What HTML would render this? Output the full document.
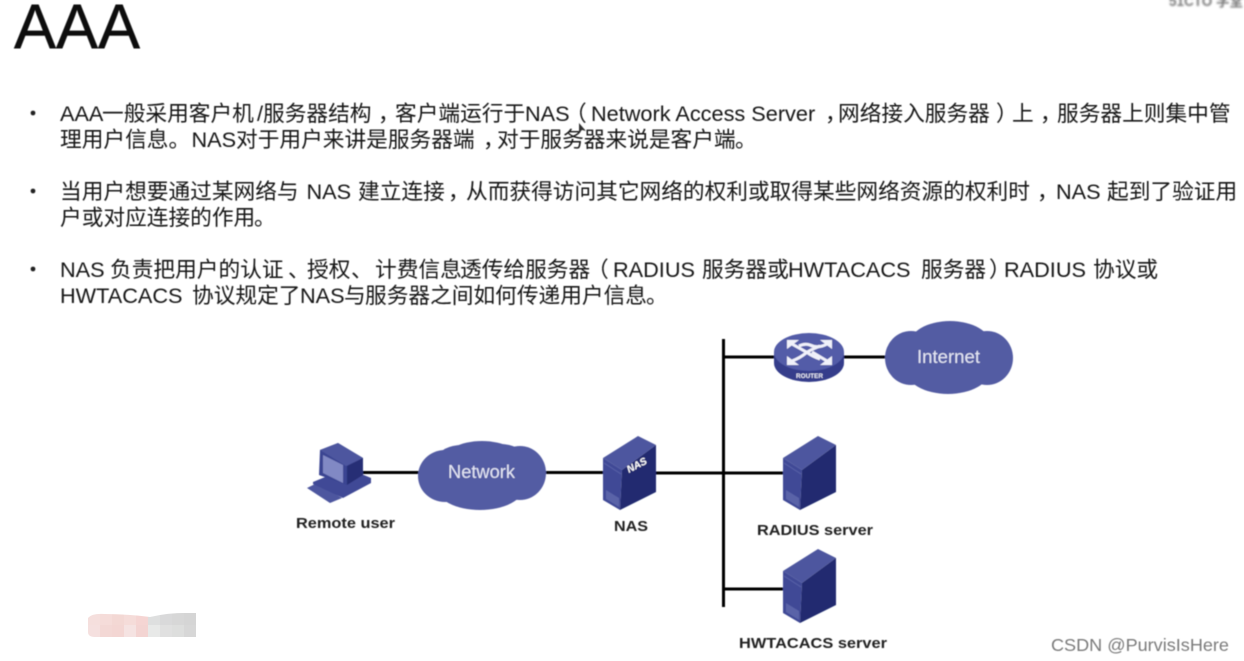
<!DOCTYPE html>
<html>
<head>
<meta charset="utf-8">
<style>
html,body{margin:0;padding:0;background:#fff;width:1244px;height:661px;overflow:hidden}
svg{display:block}
.t{font-family:"Liberation Sans","Noto Sans CJK SC",sans-serif;font-size:21.7px;fill:#161616}
.l{font-family:"Liberation Sans",sans-serif;font-weight:bold;font-size:15px;fill:#222}
.c{font-family:"Liberation Sans",sans-serif;font-size:18.5px;fill:#e4e6f4}
</style>
</head>
<body>
<svg width="1244" height="661" viewBox="0 0 1244 661" xmlns="http://www.w3.org/2000/svg">
<defs>
<filter id="b" x="-5%" y="-5%" width="110%" height="110%"><feGaussianBlur stdDeviation="0.45"/></filter>
<filter id="b2" x="-10%" y="-50%" width="120%" height="200%"><feGaussianBlur stdDeviation="1"/></filter>
<clipPath id="sm"><path d="M88,618 Q92,613 105,614 Q125,614 150,617 Q170,612 196,613 L196,637 L95,637 Q88,637 88,632 Z"/></clipPath>
<g id="srv">
<polygon points="603,458 638,436 656,445 622,470" fill="#4d569f"/>
<polygon points="603,458 622,470 620,510 603,500" fill="#3f4896"/>
<polygon points="622,470 656,445 656,492 620,510" fill="#23296f"/>
<polygon points="606,490 619,498 619,507 606,499" fill="#5a63a8"/>
<line x1="604" y1="463" x2="621" y2="474" stroke="#5a63a8" stroke-width="1"/>
</g>
</defs>

<g filter="url(#b)">
<text x="14" y="48" font-family="Liberation Sans,sans-serif" font-size="63" fill="#111" stroke="#111" stroke-width="0.5" textLength="126" lengthAdjust="spacing">AAA</text>

<circle cx="33" cy="113" r="2.4" fill="#222"/>
<circle cx="33" cy="191" r="2.4" fill="#222"/>
<circle cx="33" cy="269" r="2.4" fill="#222"/>

<text class="t" y="121"><tspan x="60">AAA</tspan><tspan x="102">一般采用客户机</tspan><tspan x="257">/</tspan><tspan x="263">服务器结构</tspan><tspan x="378">，</tspan><tspan x="395">客户端运行于</tspan><tspan x="525">NAS</tspan><tspan x="565">（</tspan><tspan x="591">Network Access Server</tspan><tspan x="825">，</tspan><tspan x="838">网络接入服务器</tspan><tspan x="996">）</tspan><tspan x="1012">上</tspan><tspan x="1040">，</tspan><tspan x="1057">服务器上则集中管</tspan></text>

<text class="t" y="147"><tspan x="60">理用户信息</tspan><tspan x="168.500">。</tspan><tspan x="191.500">NAS</tspan><tspan x="236">对于用户来讲是服务器端</tspan><tspan x="483">，</tspan><tspan x="497">对于服务器来说是客户端</tspan><tspan x="735">。</tspan></text>

<text class="t" y="199"><tspan x="60">当用户想要通过某网络与</tspan><tspan x="306.500">NAS</tspan><tspan x="358">建立连接</tspan><tspan x="448">，</tspan><tspan x="466">从而获得访问其它网络的权利或取得某些网络资源的权利时</tspan><tspan x="1037">，</tspan><tspan x="1056">NAS</tspan><tspan x="1107">起到了验证用</tspan></text>

<text class="t" y="225"><tspan x="60">户或对应连接的作用</tspan><tspan x="254">。</tspan></text>

<text class="t" y="277"><tspan x="60">NAS</tspan><tspan x="110">负责把用户的认证</tspan><tspan x="288">、</tspan><tspan x="307">授权</tspan><tspan x="351">、</tspan><tspan x="375">计费信息</tspan><tspan x="460">透传给服务器</tspan><tspan x="587">（</tspan><tspan x="613">RADIUS</tspan><tspan x="702">服务器或</tspan><tspan x="788">HWTACACS</tspan><tspan x="921">服务器</tspan><tspan x="989">）</tspan><tspan x="1004">RADIUS</tspan><tspan x="1093">协议或</tspan></text>

<text class="t" y="303"><tspan x="60">HWTACACS</tspan><tspan x="192">协议规定了</tspan><tspan x="300">NAS</tspan><tspan x="344">与</tspan><tspan x="365">服务器之间如何传递用户信息</tspan><tspan x="646">。</tspan></text>

<path d="M579,123 L579,133 L582,130 L586,131 Z" fill="#333"/>

<!-- lines -->
<g stroke="#000" stroke-width="3" fill="none">
<line x1="360" y1="472.500" x2="420" y2="472.500"/>
<line x1="544" y1="472.500" x2="606" y2="472.500"/>
<line x1="654" y1="473" x2="785" y2="473"/>
<line x1="723.500" y1="339" x2="723.500" y2="607"/>
<line x1="723" y1="357" x2="776" y2="357"/>
<line x1="842" y1="357" x2="887" y2="357"/>
<line x1="723" y1="589" x2="785" y2="589"/>
</g>

<!-- PC -->
<polygon points="307,488 317,483 342,498 330,503" fill="#4d569f"/>
<polygon points="313,482 347,468 371,478 371,483 343,498 313,484" fill="#3f4896"/>
<polygon points="320,450 338,443 363,458 363,475 347,485 319,475" fill="#3b4492"/>
<polygon points="320,450 338,443 363,458 346,466" fill="#4d569f"/>
<polygon points="347,466 363,458 363,475 347,485" fill="#272d75"/>
<polygon points="323,455 343,465 343,483 323,473" fill="#8189c4"/>

<!-- Network cloud -->
<g fill="#535ca3">
<ellipse cx="445" cy="476" rx="27" ry="26"/>
<ellipse cx="520" cy="473" rx="26" ry="27"/>
<ellipse cx="482" cy="463" rx="40" ry="22"/>
<ellipse cx="480" cy="487" rx="44" ry="23"/>
<ellipse cx="462" cy="458" rx="24" ry="13"/>
<ellipse cx="500" cy="457" rx="24" ry="13"/>
</g>
<text class="c" x="448" y="478" textLength="67" lengthAdjust="spacingAndGlyphs">Network</text>

<!-- Internet cloud -->
<g fill="#535ca3">
<ellipse cx="911" cy="358" rx="26" ry="27"/>
<ellipse cx="987" cy="358" rx="26" ry="27"/>
<ellipse cx="950" cy="345" rx="41" ry="24"/>
<ellipse cx="948" cy="370" rx="42" ry="24"/>
</g>
<text class="c" x="917" y="363" textLength="63" lengthAdjust="spacingAndGlyphs">Internet</text>

<!-- Router -->
<path d="M774,352 L774,363 A35,19 0 0 0 844,363 L844,352 Z" fill="#353e8b"/>
<ellipse cx="809" cy="352" rx="35" ry="19" fill="#525ca8"/>
<g fill="none" stroke="#f0f1fa" stroke-width="3">
<path d="M792,344 L808,353 Q812,356 820,359"/>
<path d="M827,344 Q818,349 810,345 Q805,343 799,346"/>
<path d="M792,361 Q800,358 806,353 Q810,350 820,346"/>
<path d="M827,361 L812,352"/>
</g>
<g fill="#f0f1fa">
<polygon points="787,340 799,340 787,349"/>
<polygon points="832,340 820,340 832,349"/>
<polygon points="787,365 799,365 787,356"/>
<polygon points="832,365 820,365 832,356"/>
</g>
<text x="796" y="378" font-family="Liberation Sans,sans-serif" font-weight="bold" font-size="6.500" fill="#e8e9f5" textLength="27" lengthAdjust="spacingAndGlyphs">ROUTER</text>

<!-- Servers -->
<use href="#srv"/>
<text x="629" y="473" font-family="Liberation Sans,sans-serif" font-weight="bold" font-style="italic" font-size="10" fill="#fff" transform="rotate(-28 629 473)">NAS</text>
<use href="#srv" transform="translate(180,0)"/>
<use href="#srv" transform="translate(180,113)"/>

<!-- Labels -->
<text class="l" x="296" y="528" textLength="99" lengthAdjust="spacingAndGlyphs">Remote user</text>
<text class="l" x="614" y="531" textLength="34" lengthAdjust="spacingAndGlyphs">NAS</text>
<text class="l" x="757" y="535" textLength="116" lengthAdjust="spacingAndGlyphs">RADIUS server</text>
<text class="l" x="739" y="648" textLength="148" lengthAdjust="spacingAndGlyphs">HWTACACS server</text>

<text x="1051" y="651" font-family="Liberation Sans,sans-serif" font-size="17.500" fill="#7a7a7a" textLength="178" lengthAdjust="spacingAndGlyphs">CSDN @PurvisIsHere</text>
</g>

<text x="1169" y="6" font-family="Liberation Sans,'Noto Sans CJK SC',sans-serif" font-weight="bold" font-size="15" fill="#777" filter="url(#b2)" textLength="74" lengthAdjust="spacingAndGlyphs">51CTO 学堂</text>

<!-- Smudge -->
<g clip-path="url(#sm)">
<rect x="88" y="613" width="12" height="12" fill="#f5dfdd"/>
<rect x="100" y="613" width="12" height="12" fill="#f5dcd9"/>
<rect x="112" y="613" width="12" height="12" fill="#f3d8d4"/>
<rect x="124" y="613" width="12" height="12" fill="#f5dcd9"/>
<rect x="136" y="613" width="12" height="12" fill="#f5d5d3"/>
<rect x="148" y="613" width="12" height="12" fill="#dedfdf"/>
<rect x="160" y="613" width="12" height="12" fill="#d9d9da"/>
<rect x="172" y="613" width="12" height="12" fill="#d7d7d7"/>
<rect x="184" y="613" width="12" height="12" fill="#d5d5d5"/>
<rect x="88" y="625" width="12" height="12" fill="#f5e0df"/>
<rect x="100" y="625" width="12" height="12" fill="#f3d8d5"/>
<rect x="112" y="625" width="12" height="12" fill="#f3d6d3"/>
<rect x="124" y="625" width="12" height="12" fill="#f5e3e2"/>
<rect x="136" y="625" width="12" height="12" fill="#f3d4d2"/>
<rect x="148" y="625" width="12" height="12" fill="#e8e9e8"/>
<rect x="160" y="625" width="12" height="12" fill="#e0e0e0"/>
<rect x="172" y="625" width="12" height="12" fill="#dddedd"/>
<rect x="184" y="625" width="12" height="12" fill="#d7d7d7"/>
</g>
</svg>
</body>
</html>
